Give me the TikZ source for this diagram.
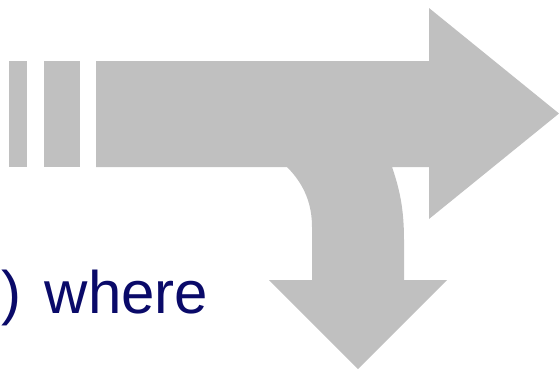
\documentclass[tikz,border=0pt]{standalone}
\usepackage{fontspec}
\setsansfont{Liberation Sans}
\definecolor{arrowgray}{RGB}{192,192,192}
\definecolor{textnavy}{RGB}{10,10,105}
\tikzset{
  shapefill/.style={fill=arrowgray, draw=none},
  bigtext/.style={text=textnavy, font=\sffamily\fontsize{60}{66}\selectfont, inner sep=0pt, anchor=base west}
}
\begin{document}
\begin{tikzpicture}[x=1pt,y=-1pt]
\useasboundingbox (0,0) rectangle (559,370);
% stripes
\fill[shapefill] (9,61) rectangle (27,167);
\fill[shapefill] (44,61) rectangle (80,167);
% main arrow with branch
\fill[shapefill] (96,61) -- (429,61) -- (429,8) -- (559,113.5) -- (429,219) -- (429,167) -- (392,167)
  .. controls (400,190) and (404,210) .. (404,240) -- (404,280) -- (447,280) -- (358,369) -- (269,280) -- (312,280) -- (312,227)
  .. controls (312,205) and (305,185) .. (287,167) -- (96,167) -- cycle;
% text
\node[bigtext] (where) at (1,313) {)\hspace{7pt} where};
\end{tikzpicture}
\end{document}
